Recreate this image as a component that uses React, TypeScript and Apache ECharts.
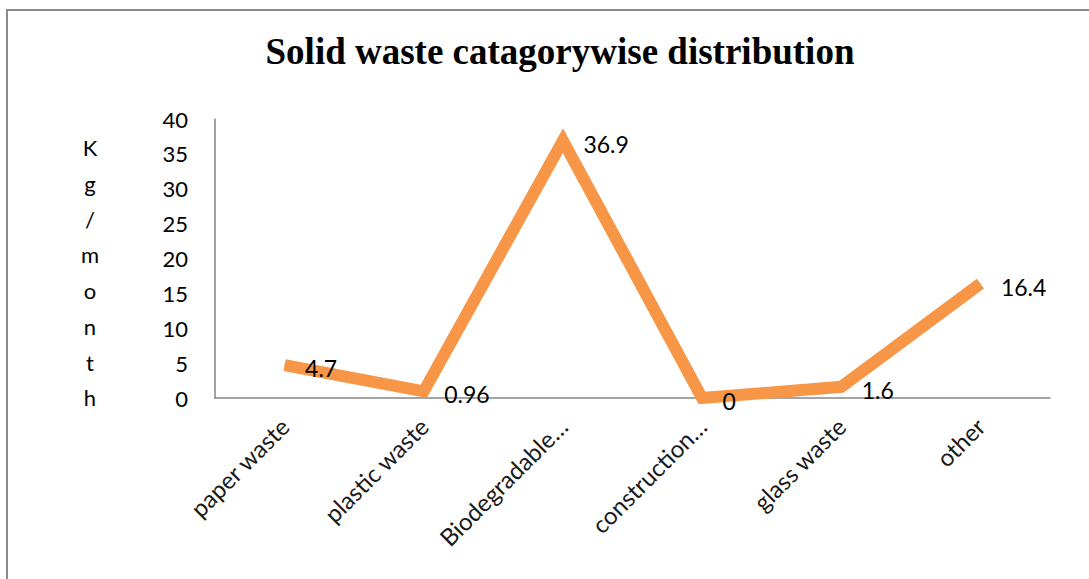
import React, { useEffect, useRef } from "react";
import * as echarts from "echarts";

const categories = ["paper waste", "plastic waste", "Biodegradable…", "construction…", "glass waste", "other"];
const values = [4.7, 0.96, 36.9, 0, 1.6, 16.4];
const yTicks = [0, 5, 10, 15, 20, 25, 30, 35, 40];
const titleText = "Solid waste catagorywise distribution";
const yName = "Kg/month";

const FONT = "Lato";

export default function App() {
  const ref = useRef<HTMLDivElement>(null);
  useEffect(() => {
    const chart = echarts.init(ref.current!, null, { renderer: "svg" });
    chart.setOption({
      animation: false,
      backgroundColor: "#ffffff",
      title: {
        text: titleText,
        left: 555,
        top: 28,
        textAlign: "center",
        textStyle: {
          fontFamily: "Liberation Serif",
          fontWeight: "bold",
          fontSize: 37,
          color: "#000000",
        },
      },
      graphic: [
        {
          type: "rect",
          shape: { x: 7, y: 10, width: 1200, height: 700 },
          style: { fill: "none", stroke: "#8c8c8c", lineWidth: 2 },
          silent: true,
        },
        {
          type: "text",
          x: 90,
          y: 130,
          style: {
            text: yName.split("").join("\n"),
            fontFamily: FONT,
            fontSize: 22,
            lineHeight: 35.7,
            fill: "#000000",
            align: "center",
            verticalAlign: "top",
          },
          silent: true,
        },
      ],
      grid: { left: 215, right: 39, top: 119, bottom: 181 },
      xAxis: {
        type: "category",
        data: categories,
        boundaryGap: true,
        axisLine: { lineStyle: { color: "#868686", width: 1.5 } },
        axisTick: { show: false },
        axisLabel: {
          rotate: 45,
          interval: 0,
          margin: 24,
          fontFamily: FONT,
          fontSize: 24,
          color: "#1a1a1a",
        },
      },
      yAxis: {
        type: "value",
        min: yTicks[0],
        max: yTicks[yTicks.length - 1],
        interval: 5,
        splitLine: { show: false },
        axisLine: { show: true, lineStyle: { color: "#868686", width: 1.5 } },
        axisTick: { show: false },
        axisLabel: {
          margin: 27,
          fontFamily: FONT,
          fontSize: 22,
          color: "#000000",
        },
      },
      series: [
        {
          type: "line",
          data: values,
          symbol: "circle",
          symbolSize: 1,
          showSymbol: true,
          itemStyle: { color: "#F79646" },
          lineStyle: { color: "#F79646", width: 12, cap: "butt", join: "miter" },
          label: {
            show: true,
            position: "right",
            distance: 20,
            offset: [0, 3],
            fontFamily: FONT,
            fontSize: 23,
            color: "#000000",
          },
        },
      ],
    });
    return () => chart.dispose();
  }, []);
  return (
    <div
      ref={ref}
      style={{ position: "fixed", left: 0, top: 0, width: 1089, height: 579 }}
    />
  );
}
